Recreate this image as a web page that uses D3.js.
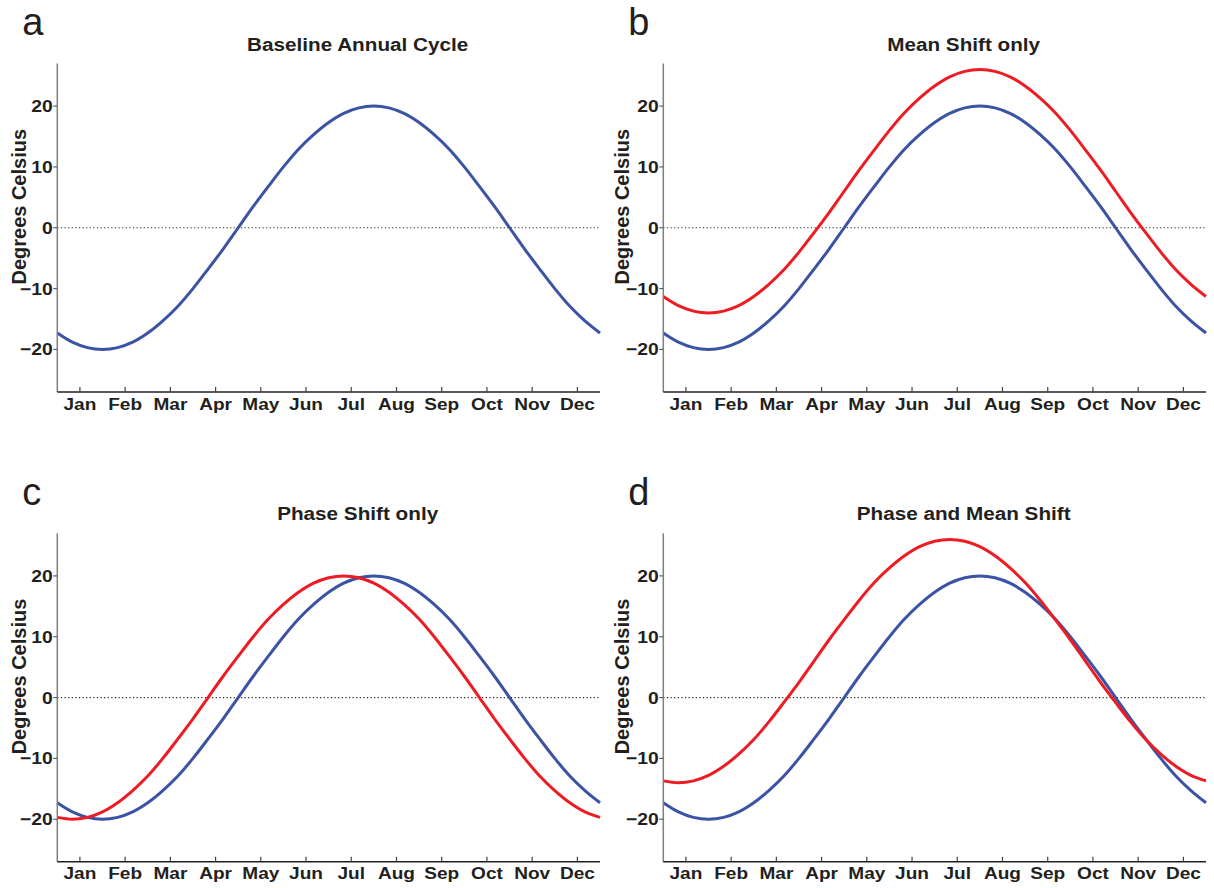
<!DOCTYPE html>
<html>
<head>
<meta charset="utf-8">
<script src="https://cdn.jsdelivr.net/npm/d3@7"></script>
<style>
  body { margin: 0; background: #fff; }
  text { font-family: "Liberation Sans", Arial, Helvetica, sans-serif; fill: #231f20; }
</style>
</head>
<body>
<div id="chart"></div>
<script>
// day of year (360-day year, 12 x 30 days), sampled every 10 days
var days = [0,10,20,30,40,50,60,70,80,90,100,110,120,130,140,150,160,170,180,
  190,200,210,220,230,240,250,260,270,280,290,300,310,320,330,340,350,360];

// values, degrees Celsius
var baseline = [-17.3,-18.8,-19.7,-20.0,-19.7,-18.8,-17.3,-15.3,-12.9,-10.0,-6.8,-3.5,0,
  3.5,6.8,10.0,12.9,15.3,17.3,18.8,19.7,20.0,19.7,18.8,17.3,15.3,12.9,10.0,6.8,3.5,0,
  -3.5,-6.8,-10.0,-12.9,-15.3,-17.3];
var meanShift = [-11.3,-12.8,-13.7,-14.0,-13.7,-12.8,-11.3,-9.3,-6.9,-4.0,-0.8,2.5,6.0,
  9.5,12.8,16.0,18.9,21.3,23.3,24.8,25.7,26.0,25.7,24.8,23.3,21.3,18.9,16.0,12.8,9.5,6.0,
  2.5,-0.8,-4.0,-6.9,-9.3,-11.3];
var phaseShift = [-19.7,-20.0,-19.7,-18.8,-17.3,-15.3,-12.9,-10.0,-6.8,-3.5,0,3.5,6.8,
  10.0,12.9,15.3,17.3,18.8,19.7,20.0,19.7,18.8,17.3,15.3,12.9,10.0,6.8,3.5,0,-3.5,-6.8,
  -10.0,-12.9,-15.3,-17.3,-18.8,-19.7];
var phaseMeanShift = [-13.7,-14.0,-13.7,-12.8,-11.3,-9.3,-6.9,-4.0,-0.8,2.5,6.0,9.5,12.8,
  16.0,18.9,21.3,23.3,24.8,25.7,26.0,25.7,24.8,23.3,21.3,18.9,16.0,12.8,9.5,6.0,2.5,-0.8,
  -4.0,-6.9,-9.3,-11.3,-12.8,-13.7];

var months = ["Jan","Feb","Mar","Apr","May","Jun","Jul","Aug","Sep","Oct","Nov","Dec"];
var monthTicks = [15,45,75,105,135,165,195,225,255,285,315,345];
var yTicks = [-20,-10,0,10,20];

var BLUE = "#3a53a4", RED = "#ed1c24";

var svg = d3.select("#chart").append("svg")
  .attr("width", 1214)
  .attr("height", 888);

var panels = [
  { letter: "a", title: "Baseline Annual Cycle", left: 57.3, top: 63.5, lines: [baseline] },
  { letter: "b", title: "Mean Shift only", left: 663.3, top: 63.5, lines: [baseline, meanShift] },
  { letter: "c", title: "Phase Shift only", left: 57.3, top: 533.3, lines: [baseline, phaseShift] },
  { letter: "d", title: "Phase and Mean Shift", left: 663.3, top: 533.3, lines: [baseline, phaseMeanShift] }
];

var W = 542.7, H = 328.5;

panels.forEach(drawPanel);

// stretched text, the figure's fonts look a bit wide
function label(g, x, y, str, size, anchor, sx) {
  return g.append("text")
    .attr("transform", "translate(" + x + "," + y + ") scale(" + sx + ",1)")
    .attr("text-anchor", anchor)
    .attr("font-size", size)
    .attr("font-weight", "bold")
    .text(str);
}

function drawPanel(p) {
  var g = svg.append("g").attr("transform", "translate(" + p.left + "," + p.top + ")");

  var x = d3.scaleLinear().domain([0, 360]).range([0, W]);
  var y = d3.scaleLinear().domain([-27, 27]).range([H, 0]);

  // zero line
  g.append("line")
    .attr("x1", 0).attr("x2", W)
    .attr("y1", y(0)).attr("y2", y(0))
    .attr("stroke", "#222")
    .attr("stroke-width", 1.2)
    .attr("stroke-dasharray", "1.2,2.4");

  // curves (blue first, red on top)
  var line = d3.line()
    .x(function(d, i) { return x(days[i]); })
    .y(function(d) { return y(d); })
    .curve(d3.curveCatmullRom);

  p.lines.forEach(function(vals, i) {
    g.append("path")
      .datum(vals)
      .attr("d", line)
      .attr("fill", "none")
      .attr("stroke", i == 0 ? BLUE : RED)
      .attr("stroke-width", 3);
  });

  // y axis
  g.append("line")
    .attr("x1", 0).attr("x2", 0)
    .attr("y1", 0).attr("y2", H)
    .attr("stroke", "#808080")
    .attr("stroke-width", 1.5);
  yTicks.forEach(function(t) {
    g.append("line")
      .attr("x1", -4).attr("x2", 0)
      .attr("y1", y(t)).attr("y2", y(t))
      .attr("stroke", "#606060")
      .attr("stroke-width", 1.2);
    label(g, -4.5, y(t) + 6, t < 0 ? "\u2212" + Math.abs(t) : String(t), 16.8, "end", 1.15);
  });

  // x axis
  g.append("line")
    .attr("x1", 0).attr("x2", W)
    .attr("y1", H).attr("y2", H)
    .attr("stroke", "#231f20")
    .attr("stroke-width", 1.5);
  monthTicks.forEach(function(t, i) {
    g.append("line")
      .attr("x1", x(t)).attr("x2", x(t))
      .attr("y1", H).attr("y2", H - 5)
      .attr("stroke", "#444")
      .attr("stroke-width", 1.2);
    label(g, x(t), H + 17.5, months[i], 16.3, "middle", 1.17);
  });

  // title
  label(g, W / 2 + 29, -13, p.title, 19, "middle", 1.09);

  // y label
  var lx = p.left < 100 ? -31.3 : -34.3;
  g.append("text")
    .attr("transform", "translate(" + lx + "," + (H / 2 - 21) + ") rotate(-90)")
    .attr("text-anchor", "middle")
    .attr("font-size", 20)
    .attr("font-weight", "bold")
    .text("Degrees Celsius");

  // panel letter
  g.append("text")
    .attr("x", -35)
    .attr("y", -28.5)
    .attr("font-size", 38)
    .text(p.letter);
}
</script>
</body>
</html>
